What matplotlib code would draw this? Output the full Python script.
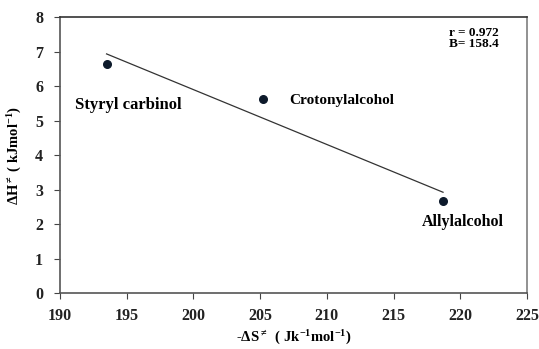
import numpy as np
import matplotlib
matplotlib.use("Agg")
import matplotlib.pyplot as plt

# DATA
compounds = ["Styryl carbinol", "Crotonylalcohol", "Allylalcohol"]
neg_ds = [193.5, 205.2, 218.7]   # -dS# (J/K mol)
dh = [6.64, 5.62, 2.67]          # dH# (kJ/mol)
x_ticks = [190, 195, 200, 205, 210, 215, 220, 225]
y_ticks = [0, 1, 2, 3, 4, 5, 6, 7, 8]
stats_text = "r = 0.972\nB= 158.4"

SERIF = ["Liberation Serif", "DejaVu Serif"]
GREY = "#7f7f7f"

plt.rcParams["mathtext.fontset"] = "custom"
plt.rcParams["mathtext.rm"] = "Liberation Serif:bold"
plt.rcParams["mathtext.bf"] = "Liberation Serif:bold"
plt.rcParams["mathtext.it"] = "Liberation Serif:bold"

fig = plt.figure(figsize=(5.39, 3.49), dpi=100, facecolor="white")
ax = fig.add_axes([0.111, 0.160, 0.867, 0.791])

# points and least-squares line
ax.scatter(neg_ds, dh, s=30, color="#0d1a2b", zorder=3)
slope, intercept = np.polyfit(neg_ds, dh, 1)
xs = np.array([min(neg_ds), max(neg_ds)])
ax.plot(xs, slope * xs + intercept, color="#333333", lw=0.9)

# labels next to points
ax.text(neg_ds[0] - 2.4, dh[0] - 1.2, compounds[0], family=SERIF, weight="bold",
        fontsize=12, va="center", ha="left")
ax.text(neg_ds[1] + 2.0, dh[1] - 0.05, compounds[1], family=SERIF, weight="bold",
        fontsize=11, va="center", ha="left")
ax.text(neg_ds[2] - 1.6, dh[2] - 0.6, compounds[2], family=SERIF, weight="bold",
        fontsize=11.5, va="center", ha="left")

ax.text(0.832, 0.965, stats_text, transform=ax.transAxes, family=SERIF, weight="bold",
        fontsize=9.5, va="top", ha="left", linespacing=0.9)

ax.set_xlim(190, 225)
ax.set_ylim(0, 8)
ax.set_xticks(x_ticks)
ax.set_yticks(y_ticks)
for lab in ax.get_xticklabels() + ax.get_yticklabels():
    lab.set_family(SERIF)
    lab.set_weight("bold")
    lab.set_fontsize(11.5)
ax.tick_params(direction="out", length=4, width=0.8, colors="#444444", labelcolor="#222222")
ax.tick_params(axis="x", pad=7)
ax.tick_params(axis="y", pad=8)

ax.spines["top"].set_color("#333333")
ax.spines["right"].set_color(GREY)
for side in ["left", "bottom"]:
    ax.spines[side].set_color("#555555")
for sp in ax.spines.values():
    sp.set_linewidth(1.2)

ax.set_xlabel(r"-$\Delta$S$^{\neq}$  ( Jk$^{-1}$mol$^{-1}$)",
              family=SERIF, weight="bold", fontsize=10.5, labelpad=3)
ax.set_ylabel(r"$\Delta$H$^{\neq}$ ( kJmol$^{-1}$)",
              family=SERIF, weight="bold", fontsize=10.5, labelpad=8)

fig.savefig("out.png", dpi=100)
